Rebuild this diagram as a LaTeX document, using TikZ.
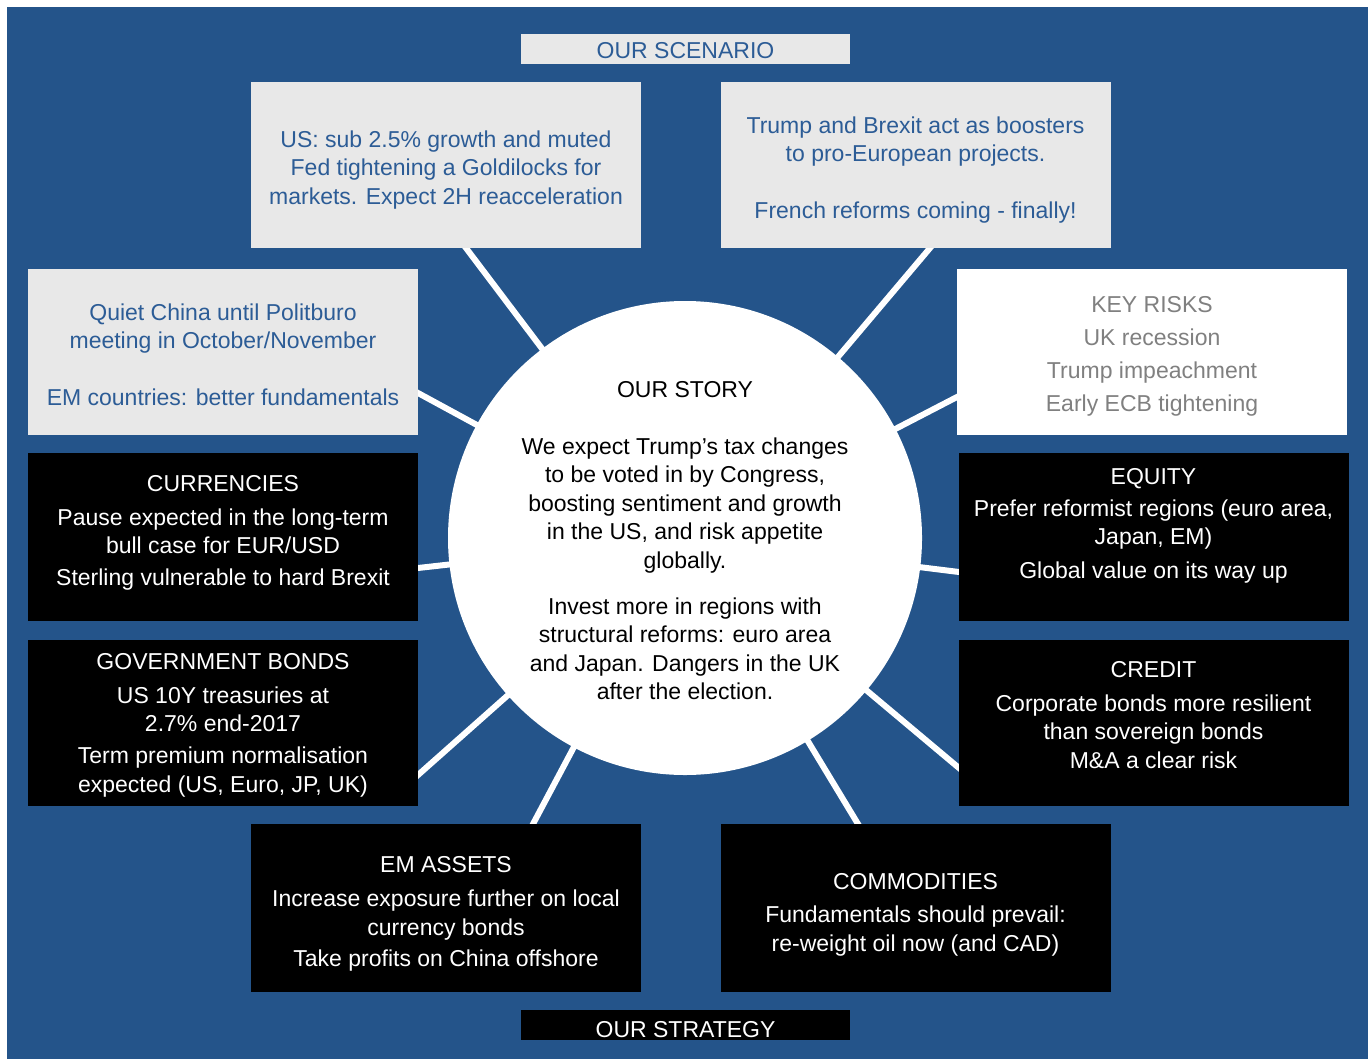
\documentclass[tikz,border=0pt]{standalone}
\usepackage{fontspec}
\setmainfont{Liberation Sans}
\usetikzlibrary{positioning,calc,backgrounds}
\definecolor{bgblue}{HTML}{24548A}
\definecolor{panelgrey}{HTML}{E8E8E8}
\definecolor{scenblue}{HTML}{2C5C96}
\definecolor{riskgrey}{HTML}{808080}
% box first, then its text, shifted a little when needed
\newcommand{\panel}[6]{%
  \node[#3] (#1) at (#2) {};
  \node[#4, align=center, inner sep=0pt] (#1-t) at ([yshift=#5]#1.center) {#6};}

\begin{document}
\begin{tikzpicture}[x=0.5pt, y=-0.5pt, font=\fontsize{11.5}{14.25}\selectfont,
  boxbase/.style={minimum width=195pt, minimum height=83pt, inner sep=0pt},
  scen/.style={boxbase, fill=panelgrey},
  risk/.style={boxbase, fill=white},
  strat/.style={boxbase, fill=black},
  scentxt/.style={text=scenblue},
  risktxt/.style={text=riskgrey},
  strattxt/.style={text=white},
  spoke/.style={white, line width=3pt, shorten >=-4pt}]
  \useasboundingbox (0,0) rectangle (1368,1059);

  % headers
  \panel{scenario}{685.5,49}{scen, minimum width=164.5pt, minimum height=15pt}{scentxt}{-1pt}{OUR SCENARIO}
  \panel{strategy}{685.5,1025}{strat, minimum width=164.5pt, minimum height=15pt}{strattxt}{-2.5pt}{OUR STRATEGY}

  % centre
  \node[circle, fill=white, minimum size=237pt, inner sep=0pt] (story) at (685,538) {};
  \node[align=center, inner sep=0pt] (story-t) at ([yshift=-1.2pt]story.center)
    {OUR STORY\\[14.25pt]
     We expect Trump’s tax changes\\ to be voted in by Congress,\\
     boosting sentiment and growth\\ in the US, and risk appetite\\ globally.\\[8.75pt]
     Invest more in regions with\\ structural reforms: euro area\\
     and Japan. Dangers in the UK\\ after the election.};

  % scenario boxes
  \panel{us}{446,165}{scen}{scentxt}{-2.5pt}{US: sub 2.5\% growth and muted\\ Fed tightening a Goldilocks for\\ markets. Expect 2H reacceleration}
  \panel{eu}{915.5,165}{scen}{scentxt}{-2.5pt}{Trump and Brexit act as boosters\\ to pro-European projects.\\[14.25pt] French reforms coming - finally!}
  \panel{china}{223,352}{scen}{scentxt}{-1.5pt}{Quiet China until Politburo\\ meeting in October/November\\[14.25pt] EM countries: better fundamentals}
  \panel{risks}{1152,352}{risk}{risktxt}{-2.3pt}{KEY RISKS\\[2.25pt] UK recession\\[2.25pt] Trump impeachment\\[2.25pt] Early ECB tightening}

  % strategy boxes
  \panel{cur}{223,537}{strat, minimum height=84pt}{strattxt}{2pt}{CURRENCIES\\[2.75pt] Pause expected in the long-term\\ bull case for EUR/USD\\[1.75pt] Sterling vulnerable to hard Brexit}
  \panel{equ}{1153.5,537}{strat, minimum height=84pt}{strattxt}{5.5pt}{EQUITY\\[1.75pt] Prefer reformist regions (euro area,\\ Japan, EM)\\[2.75pt] Global value on its way up}
  \panel{gov}{223,723}{strat}{strattxt}{-1pt}{GOVERNMENT BONDS\\[2.75pt] US 10Y treasuries at\\ 2.7\% end-2017\\[1.75pt] Term premium normalisation\\ expected (US, Euro, JP, UK)}
  \panel{cred}{1153.5,723}{strat}{strattxt}{4pt}{CREDIT\\[2.75pt] Corporate bonds more resilient\\ than sovereign bonds\\ M\&A a clear risk}
  \panel{em}{446,908}{strat, minimum height=84pt}{strattxt}{-3pt}{EM ASSETS\\[2.75pt] Increase exposure further on local\\ currency bonds\\[1.25pt] Take profits on China offshore}
  \panel{comm}{915.5,908}{strat, minimum height=84pt}{strattxt}{-3.5pt}{COMMODITIES\\[2.25pt] Fundamentals should prevail:\\ re-weight oil now (and CAD)}

  % spoke ends on the box edges
  \coordinate (sp-us) at (466,248);
  \coordinate (sp-eu) at (930,248);
  \coordinate (sp-china) at (418,393);
  \coordinate (sp-risks) at (957,397);
  \coordinate (sp-cur) at (418,568);
  \coordinate (sp-equ) at (959,572);
  \coordinate (sp-gov) at (418,775);
  \coordinate (sp-cred) at (959,768);
  \coordinate (sp-em) at (533,824);
  \coordinate (sp-comm) at (858,824);

  \begin{scope}[on background layer]
    \fill[bgblue] (7,7) rectangle (1368,1059);
    \foreach \c in {us,eu,china,risks,cur,equ,gov,cred,em,comm}
      \draw[spoke] (story.center) -- (sp-\c);
  \end{scope}
\end{tikzpicture}
\end{document}
